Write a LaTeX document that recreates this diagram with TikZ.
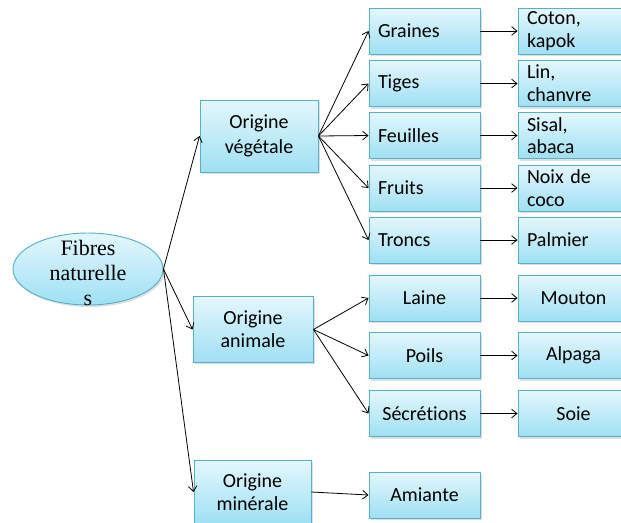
\documentclass[tikz,border=0pt]{standalone}
\usepackage{fontspec}
\setmainfont{Carlito}[Ligatures=NoCommon]
\newfontfamily\timesfont{Liberation Serif}
\usetikzlibrary{arrows.meta}
\usetikzlibrary{shapes.geometric}
\usetikzlibrary{shadows}

\definecolor{boxtop}{RGB}{228,247,253}
\definecolor{boxbot}{RGB}{158,224,243}
\definecolor{boxline}{RGB}{86,176,202}

\begin{document}
\begin{tikzpicture}[x=0.75pt, y=-0.75pt, >={Straight Barb[length=4pt,width=6.5pt]},
        box/.style={draw=boxline, line width=0.7pt, top color=boxtop, bottom color=boxbot,
            minimum width=83.25pt, minimum height=34.5pt, inner sep=0pt, align=center,
            font=\fontsize{15}{17}\selectfont,
            drop shadow={shadow xshift=1.2pt, shadow yshift=-1.5pt, opacity=0.25}},
        leftbox/.style={box, align=left, text width=69.75pt},
        origbox/.style={box, minimum width=88.5pt, minimum height=49pt},
        fibre/.style={ellipse, draw=boxline, line width=0.7pt, top color=boxtop, bottom color=boxbot,
            minimum width=112.5pt, minimum height=54pt, inner sep=0pt,
            drop shadow={shadow xshift=1.2pt, shadow yshift=-1.5pt, opacity=0.25}},
        fibtext/.style={align=center, inner sep=0pt, font=\timesfont\fontsize{16.5}{19}\selectfont},
        link/.style={->, line width=0.6pt}]

        \useasboundingbox (0,0) rectangle (621,522);

        % root
        \node[fibre] (fib) at (88,269) {};
        \node[fibtext] (fibt) at (88,273) {Fibres\\naturelle\\s};

        % origins
        \node[origbox, minimum height=54pt] (veg) at (259,136) {Origine\\[2pt]v\'eg\'etale};
        \node[origbox, minimum width=90pt] (ani) at (253,329.5) {Origine\\animale};
        \node[origbox, minimum width=87.75pt, minimum height=48pt] (min) at (252.5,492) {Origine\\min\'erale};

        % vegetal parts
        \node[leftbox] (gra) at (424.5,31) {Graines};
        \node[leftbox] (tig) at (424.5,83.5) {Tiges};
        \node[leftbox] (feu) at (424.5,135.5) {Feuilles};
        \node[leftbox] (fru) at (424.5,188) {Fruits};
        \node[leftbox] (tro) at (424.5,240) {Troncs};

        \node[leftbox] (cot) at (573.5,31) {Coton,\\kapok};
        \node[leftbox] (lin) at (573.5,83.5) {Lin,\\chanvre};
        \node[leftbox] (sis) at (573.5,135.5) {Sisal,\\abaca};
        \node[leftbox] (noi) at (573.5,188) {Noix de\\coco};
        \node[leftbox] (pal) at (573.5,240) {Palmier};

        % animal parts
        \node[box] (lai) at (424.5,298) {Laine};
        \node[box] (poi) at (424.5,355.5) {Poils};
        \node[box] (sec) at (424.5,413.5) {S\'ecr\'etions};

        \node[box] (mou) at (573.5,298) {Mouton};
        \node[box] (alp) at (573.5,355.5) {Alpaga};
        \node[box] (soi) at (573.5,413.5) {Soie};

        % mineral
        \node[box] (ami) at (424.5,495) {Amiante};

        \draw[link] (fib.east) -- (veg.west);
        \draw[link] (fib.east) -- (ani.west);
        \draw[link] (fib.east) -- (min.west);

        \draw[link] (veg.east) -- (gra.west);
        \draw[link] (veg.east) -- (tig.west);
        \draw[link] (veg.east) -- (feu.west);
        \draw[link] (veg.east) -- (fru.west);
        \draw[link] (veg.east) -- (tro.west);

        \draw[link] (gra.east) -- (cot.west);
        \draw[link] (tig.east) -- (lin.west);
        \draw[link] (feu.east) -- (sis.west);
        \draw[link] (fru.east) -- (noi.west);
        \draw[link] (tro.east) -- (pal.west);

        \draw[link] (ani.east) -- (lai.west);
        \draw[link] (ani.east) -- (poi.west);
        \draw[link] (ani.east) -- (sec.west);

        \draw[link] (lai.east) -- (mou.west);
        \draw[link] (poi.east) -- (alp.west);
        \draw[link] (sec.east) -- (soi.west);

        \draw[link] (min.east) -- (ami.west);

    \end{tikzpicture}
\end{document}
